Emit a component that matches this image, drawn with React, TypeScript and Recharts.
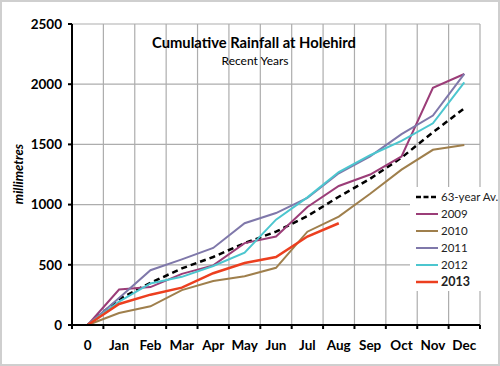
import { LineChart, Line, XAxis, YAxis, CartesianGrid } from "recharts";

// categories (Excel-style: points sit between the tick marks)
const MONTHS = ["0", "Jan", "Feb", "Mar", "Apr", "May", "Jun", "Jul", "Aug", "Sep", "Oct", "Nov", "Dec"];

// cumulative rainfall, mm
const AVG_63 = [0, 215, 350, 470, 565, 680, 775, 905, 1065, 1215, 1390, 1600, 1800];
const Y2009 = [0, 295, 315, 425, 495, 680, 735, 980, 1155, 1250, 1400, 1970, 2085];
const Y2010 = [0, 100, 155, 290, 365, 405, 475, 775, 900, 1090, 1290, 1455, 1495];
const Y2011 = [0, 225, 455, 545, 640, 845, 930, 1055, 1260, 1400, 1585, 1740, 2085];
const Y2012 = [0, 195, 345, 400, 490, 600, 875, 1060, 1270, 1410, 1530, 1675, 2015];
const Y2013 = [0, 175, 252, 310, 430, 515, 565, 735, 845];

const Y_TICKS = [0, 500, 1000, 1500, 2000, 2500];

const SERIES = [
  { key: "avg", name: "63-year Av.", color: "#000000", width: 2.5, dash: "6 4", bold: false },
  { key: "y2009", name: "2009", color: "#9b3d78", width: 2, dash: undefined, bold: false },
  { key: "y2010", name: "2010", color: "#9f7f4c", width: 2, dash: undefined, bold: false },
  { key: "y2011", name: "2011", color: "#7f78aa", width: 2, dash: undefined, bold: false },
  { key: "y2012", name: "2012", color: "#4cc6cf", width: 2, dash: undefined, bold: false },
  { key: "y2013", name: "2013", color: "#ec3f1f", width: 2.5, dash: undefined, bold: true },
];

const data = MONTHS.map((m, i) => ({
  i,
  month: m,
  avg: AVG_63[i],
  y2009: Y2009[i],
  y2010: Y2010[i],
  y2011: Y2011[i],
  y2012: Y2012[i],
  y2013: Y2013[i],
}));

// gridlines / tick marks fall on the band edges, labels on the band centres
const EDGES = [...MONTHS.map((_, i) => i - 0.5), MONTHS.length - 0.5];
const CENTRES = MONTHS.map((_, i) => i);

const FONT = "Lato, 'Open Sans', sans-serif";

export default function App() {
  return (
    <div style={{ position: "relative", width: 500, height: 366, background: "#fff", fontFamily: FONT }}>
      <style>{`body{margin:0}`}</style>
      <LineChart width={500} height={366} data={data} margin={{ top: 24, right: 20, left: 0, bottom: 0 }}>
        <CartesianGrid xAxisId="grid" stroke="#adadad" strokeWidth={1.2} />
        <XAxis
          xAxisId="grid"
          type="number"
          dataKey="i"
          domain={[-0.5, 12.5]}
          ticks={EDGES}
          interval={0}
          tickFormatter={() => ""}
          height={6}
          tickSize={4}
          axisLine={{ stroke: "#000", strokeWidth: 2 }}
          tickLine={{ stroke: "#000", strokeWidth: 2 }}
        />
        <XAxis
          xAxisId="lab"
          type="number"
          dataKey="i"
          domain={[-0.5, 12.5]}
          ticks={CENTRES}
          interval={0}
          tickFormatter={(v: number) => MONTHS[v]}
          height={35}
          axisLine={false}
          tickLine={false}
          tickSize={0}
          tickMargin={9}
          tick={{ fontSize: 13.5, fontWeight: 700, fill: "#000", fontFamily: FONT }}
        />
        <YAxis
          domain={[0, 2500]}
          ticks={Y_TICKS}
          interval={0}
          width={72}
          tickSize={4}
          tickMargin={6}
          axisLine={{ stroke: "#000", strokeWidth: 2 }}
          tickLine={{ stroke: "#000", strokeWidth: 2 }}
          tick={{ fontSize: 13.5, fontWeight: 700, fill: "#000", fontFamily: FONT }}
        />
        {SERIES.map((s) => (
          <Line
            key={s.key}
            xAxisId="grid"
            type="linear"
            dataKey={s.key}
            stroke={s.color}
            strokeWidth={s.width}
            strokeDasharray={s.dash}
            dot={false}
            activeDot={false}
            isAnimationActive={false}
          />
        ))}
      </LineChart>

      {/* title, axis title and legend drawn over the plot */}
      <svg width={500} height={366} style={{ position: "absolute", left: 0, top: 0, pointerEvents: "none" }}>
        <text x={254} y={48} textAnchor="middle" fontSize={15.5} fontWeight={700} fill="#000" fontFamily={FONT} textLength={204} lengthAdjust="spacingAndGlyphs">
          Cumulative Rainfall at Holehird
        </text>
        <text x={255} y={65} textAnchor="middle" fontSize={12} fill="#000" fontFamily={FONT}>
          Recent Years
        </text>
        <text x={23} y={174} textAnchor="middle" fontSize={13} fontWeight={700} fontStyle="italic" fill="#000" fontFamily={FONT} transform="rotate(-90 23 174)">
          millimetres
        </text>

        <rect x={410} y={187} width={86} height={104} fill="#fff" />
        {SERIES.map((s, k) => {
          const y = 197 + k * 17;
          return (
            <g key={s.key}>
              <line x1={416} x2={438} y1={y} y2={y} stroke={s.color} strokeWidth={s.width} strokeDasharray={s.dash ? "5 2.5" : undefined} />
              <text x={441} y={y + 4} fontSize={s.bold ? 12.5 : 11.5} fontWeight={s.bold ? 700 : 400} fill="#222" fontFamily={FONT}>
                {s.name}
              </text>
            </g>
          );
        })}
      </svg>
      <div style={{ position: "absolute", inset: 0, border: "2px solid #cfcfcf", pointerEvents: "none" }} />
    </div>
  );
}
